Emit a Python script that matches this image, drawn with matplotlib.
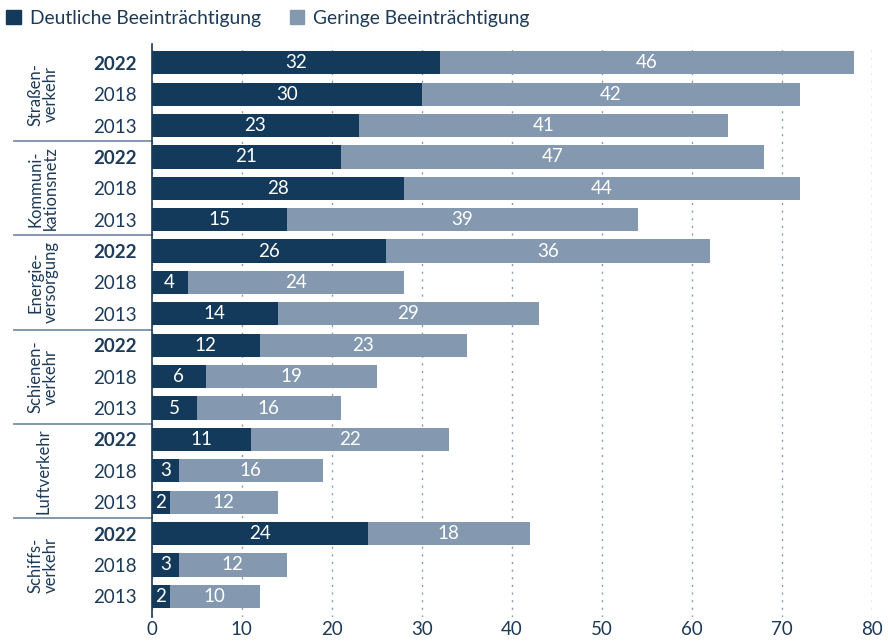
import matplotlib.pyplot as plt
import matplotlib.patches as mpatches
import numpy as np

plt.rcParams['font.family'] = ['Lato', 'DejaVu Sans']

groups = ["Straßen-\nverkehr", "Kommuni-\nkationsnetz", "Energie-\nversorgung",
          "Schienen-\nverkehr", "Luftverkehr", "Schiffs-\nverkehr"]
years = ["2022", "2018", "2013"]
deutlich = [32, 30, 23, 21, 28, 15, 26, 4, 14, 12, 6, 5, 11, 3, 2, 24, 3, 2]
gering = [46, 42, 41, 47, 44, 39, 36, 24, 29, 23, 19, 16, 22, 16, 12, 18, 12, 10]

dark = "#133a5b"
light = "#8499b0"
txt = "#1d3a58"

fig = plt.figure(figsize=(8.88, 6.44), dpi=100)
ax = fig.add_axes([0.1708, 0.0419, 0.8112, 0.8898])

y = np.arange(len(deutlich))
h = 0.74
ax.barh(y, deutlich, height=h, color=dark)
ax.barh(y, gering, left=deutlich, height=h, color=light)

for i in range(len(y)):
    ax.text(deutlich[i] / 2, y[i], str(deutlich[i]), color="white", fontsize=13.5,
            ha="center", va="center")
    ax.text(deutlich[i] + gering[i] / 2, y[i], str(gering[i]), color="white", fontsize=13.5,
            ha="center", va="center")

ax.set_xlim(0, 80)
ax.set_ylim(17.66, -0.6)
ax.set_xticks(np.arange(0, 81, 10))
ax.tick_params(axis="x", length=0, labelsize=13.5, labelcolor=txt, pad=3)
ax.set_yticks(y)
ax.set_yticklabels(years * len(groups))
ax.tick_params(axis="y", length=0, labelsize=13.5, labelcolor=txt, pad=11)
for i, lab in enumerate(ax.get_yticklabels()):
    if i % 3 == 0:
        lab.set_fontweight("bold")

ax.grid(axis="x", color="#8a9bb0", linestyle=(0, (1.5, 4)), linewidth=1)
ax.set_axisbelow(True)
for s in ["top", "right", "bottom"]:
    ax.spines[s].set_visible(False)
ax.spines["left"].set_color(txt)
ax.spines["left"].set_linewidth(1.2)

# group labels and separators
for g, name in enumerate(groups):
    ax.text(-12.0, g * 3 + 1, name, rotation=90, ha="center", va="center",
            fontsize=12, color=txt, linespacing=0.95, clip_on=False)
    if g > 0:
        ax.plot([-15.3, 0], [g * 3 - 0.5, g * 3 - 0.5], color="#7890a8",
                linewidth=1.3, clip_on=False)

handles = [mpatches.Patch(color=dark, label="Deutliche Beeinträchtigung"),
           mpatches.Patch(color=light, label="Geringe Beeinträchtigung")]
fig.legend(handles=handles, loc="upper left", bbox_to_anchor=(-0.008, 1.006), ncol=2,
           frameon=False, fontsize=13.9, handlelength=0.75, handleheight=0.75,
           handletextpad=0.45, columnspacing=1.5, labelcolor=txt, borderaxespad=0.3)

fig.savefig("out.png", dpi=100)
